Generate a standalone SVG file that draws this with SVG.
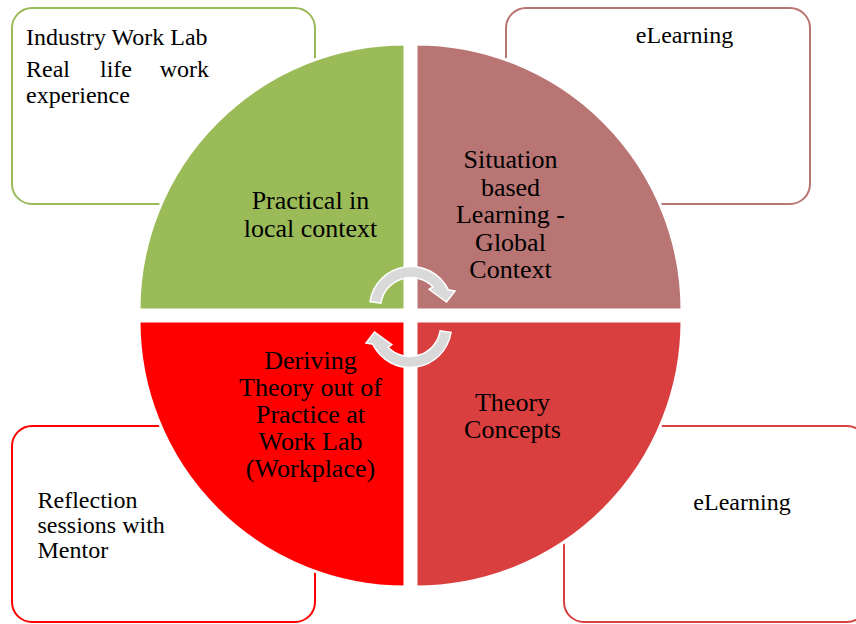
<svg xmlns="http://www.w3.org/2000/svg" width="856" height="624" viewBox="0 0 856 624">
<style>
.box{fill:#FFFFFF;stroke-width:2}
.q{stroke:#FFFFFF;stroke-width:3}
text{font-family:'Liberation Serif','DejaVu Serif',serif;fill:#000000}
.t{font-size:24px}
.qt{font-size:26px;text-anchor:middle}
.arr{fill:#D9D9D9;stroke:#FFFFFF;stroke-width:1.5}
</style>
<defs>
<path id="arrowShape" d="M370,301.5 A41.5,41.5 0 0 1 448.3,289.8 L455,291 L446.5,302 L429.1,289.3 L432.9,286.8 A30.5,30.5 0 0 0 380.9,303.2 Z"/>
</defs>
<rect width="856" height="624" fill="#FFFFFF"/>
<g id="box-top-left">
<rect class="box" x="12" y="8" width="303" height="196" rx="20" stroke="#9BBB59"/>
<text class="t" x="26" y="45">Industry Work Lab</text>
<text class="t" x="26" y="77">Real</text>
<text class="t" x="100" y="77">life</text>
<text class="t" x="209" y="77" text-anchor="end">work</text>
<text class="t" x="26" y="103">experience</text>
</g>
<g id="box-top-right">
<rect class="box" x="506" y="8" width="304" height="196" rx="20" stroke="#B87573"/>
<text class="t" x="684.5" y="43" text-anchor="middle">eLearning</text>
</g>
<g id="box-bottom-left">
<rect class="box" x="12" y="426" width="303" height="196" rx="20" stroke="#FF0000"/>
<text class="t" x="37.5" y="508">Reflection</text>
<text class="t" x="37.5" y="533">sessions with</text>
<text class="t" x="37.5" y="558">Mentor</text>
</g>
<g id="box-bottom-right">
<rect class="box" x="564" y="426" width="303" height="196" rx="20" stroke="#DA3F3F"/>
<text class="t" x="742" y="510" text-anchor="middle">eLearning</text>
</g>
<g id="quadrant-practical">
<path class="q" fill="#9BBB59" d="M405,310 L139,310 A266,266 0 0 1 405,44 Z"/>
</g>
<g id="quadrant-situation">
<path class="q" fill="#B87573" d="M416,310 L416,44 A266,266 0 0 1 682,310 Z"/>
</g>
<g id="quadrant-deriving">
<path class="q" fill="#FF0000" d="M405,321 L405,587 A266,266 0 0 1 139,321 Z"/>
</g>
<g id="quadrant-theory">
<path class="q" fill="#DA3F3F" d="M416,321 L682,321 A266,266 0 0 1 416,587 Z"/>
</g>
<g id="connectors">
<use href="#arrowShape" class="arr"/>
<use href="#arrowShape" class="arr" transform="rotate(180 410.5 317)"/>
</g>
<g id="labels">
<text class="qt" x="310.5" y="209">Practical in</text>
<text class="qt" x="310.5" y="236.5">local context</text>
<text class="qt" x="510.5" y="168">Situation</text>
<text class="qt" x="510.5" y="195.5">based</text>
<text class="qt" x="510.5" y="223">Learning -</text>
<text class="qt" x="510.5" y="250.5">Global</text>
<text class="qt" x="510.5" y="277.7">Context</text>
<text class="qt" x="310.5" y="368.5">Deriving</text>
<text class="qt" x="310.5" y="395.5">Theory out of</text>
<text class="qt" x="310.5" y="422.5">Practice at</text>
<text class="qt" x="310.5" y="449.7">Work Lab</text>
<text class="qt" x="310.5" y="476.7">(Workplace)</text>
<text class="qt" x="512.5" y="411">Theory</text>
<text class="qt" x="512.5" y="437.7">Concepts</text>
</g>
</svg>
